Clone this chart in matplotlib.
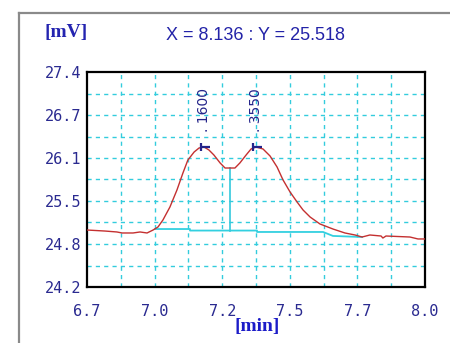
import matplotlib
matplotlib.use("Agg")
import matplotlib.pyplot as plt
from matplotlib.path import Path
from matplotlib.lines import Line2D

# ---- data ----
time_min = [6.700, 6.769, 6.815, 6.835, 6.877, 6.904, 6.931, 6.954, 6.973, 6.992,
            7.019, 7.046, 7.069, 7.088, 7.112, 7.131, 7.150, 7.169, 7.188, 7.212,
            7.231, 7.269, 7.288, 7.312, 7.331, 7.350, 7.377, 7.404, 7.431, 7.454,
            7.481, 7.508, 7.531, 7.558, 7.596, 7.646, 7.692, 7.731, 7.758, 7.788,
            7.831, 7.838, 7.850, 7.942, 7.973, 8.000]
signal_mv = [25.048, 25.033, 25.019, 25.004, 25.004, 25.019, 25.004, 25.048, 25.093, 25.197,
             25.391, 25.644, 25.897, 26.090, 26.209, 26.269, 26.284, 26.239, 26.165, 26.046,
             25.971, 25.971, 26.046, 26.165, 26.254, 26.284, 26.254, 26.150, 25.986, 25.793,
             25.614, 25.465, 25.346, 25.242, 25.138, 25.063, 25.004, 24.974, 24.944, 24.974,
             24.959, 24.929, 24.959, 24.944, 24.915, 24.915]

baseline_x = [6.962, 7.096, 7.096, 7.354, 7.354, 7.608, 7.646, 7.758]
baseline_y = [25.063, 25.063, 25.040, 25.040, 25.019, 25.019, 24.960, 24.944]

peak_times = [7.150, 7.350]
peak_values = [26.284, 26.284]
peak_labels = [". 1600", ". 3550"]

valley_time = 7.250
valley_value = 25.971
valley_base = 25.030

x_ticks = [6.70, 6.96, 7.22, 7.48, 7.74, 8.00]
x_ticklabels = ["6.7", "7.0", "7.2", "7.5", "7.7", "8.0"]
y_ticks = [24.20, 24.84, 25.48, 26.12, 26.76, 27.40]
y_ticklabels = ["24.2", "24.8", "25.5", "26.1", "26.7", "27.4"]
x_grid = [6.70 + 0.13 * i for i in range(11)]
y_grid = [24.20 + 0.32 * i for i in range(11)]

title_text = "X = 8.136 : Y = 25.518"

# ---- figure ----
W, H = 450, 343
fig = plt.figure(figsize=(W / 100, H / 100), dpi=100)
fig.patch.set_facecolor("white")

def fx(px):
    return px / W

def fy(py):
    return 1 - py / H

# outer panel border
fig.add_artist(Line2D([fx(19), fx(19)], [fy(13), fy(343)], color="#8a8a8a", lw=1.6))
fig.add_artist(Line2D([fx(19), fx(450)], [fy(13), fy(13)], color="#8a8a8a", lw=1.6))

ax = fig.add_axes([fx(87), fy(287), fx(425) - fx(87), fy(72) - fy(287)])
ax.set_xlim(6.70, 8.00)
ax.set_ylim(24.20, 27.40)

grid_col = "#33ccdd"
for gx in x_grid[1:-1]:
    ax.axvline(gx, color=grid_col, lw=1.0, ls=(0, (3, 3)), zorder=1)
for gy in y_grid[1:-1]:
    ax.axhline(gy, color=grid_col, lw=1.0, ls=(0, (3, 3)), zorder=1)

ax.plot(baseline_x, baseline_y, color="#33d0e0", lw=1.3, zorder=2)
ax.plot([valley_time, valley_time], [valley_base, valley_value], color="#33c8dd", lw=1.2, zorder=2)
ax.plot(time_min, signal_mv, color="#c43030", lw=1.0, zorder=3)

peak_marker = Path([(-0.5, -0.6), (-0.5, 0.6), (-0.5, 0.0), (0.9, 0.0)],
                   [Path.MOVETO, Path.LINETO, Path.MOVETO, Path.LINETO])
navy = "#24248a"
ax.plot(peak_times, peak_values, ls="none", marker=peak_marker, markersize=8,
        markeredgecolor=navy, markeredgewidth=1.6, zorder=4)
for t, v, lab in zip(peak_times, peak_values, peak_labels):
    ax.annotate(lab, xy=(t, v), xytext=(0, 11), textcoords="offset points",
                rotation=90, ha="center", va="bottom", fontsize=10,
                color=navy, family="DejaVu Sans", zorder=5)

for s in ax.spines.values():
    s.set_linewidth(1.6)
    s.set_color("black")

ax.set_xticks(x_ticks)
ax.set_xticklabels(x_ticklabels)
ax.set_yticks(y_ticks)
ax.set_yticklabels(y_ticklabels)
ax.tick_params(length=0, colors="#2a2a90", labelsize=11)
ax.tick_params(axis="x", pad=12)
ax.tick_params(axis="y", pad=4)
for lbl in ax.get_xticklabels() + ax.get_yticklabels():
    lbl.set_family("DejaVu Sans Mono")

fig.text(fx(255), fy(35), title_text, ha="center", va="center", fontsize=13,
         color="#2323a8", family="Liberation Sans")
fig.text(fx(66), fy(33), "[mV]", ha="center", va="center", fontsize=14,
         color="#2424b0", family="Liberation Serif", weight="bold")
fig.text(fx(257), fy(326), "[min]", ha="center", va="center", fontsize=14,
         color="#1c1cc8", family="Liberation Serif", weight="bold")

fig.savefig("out.png", dpi=100, facecolor="white")
